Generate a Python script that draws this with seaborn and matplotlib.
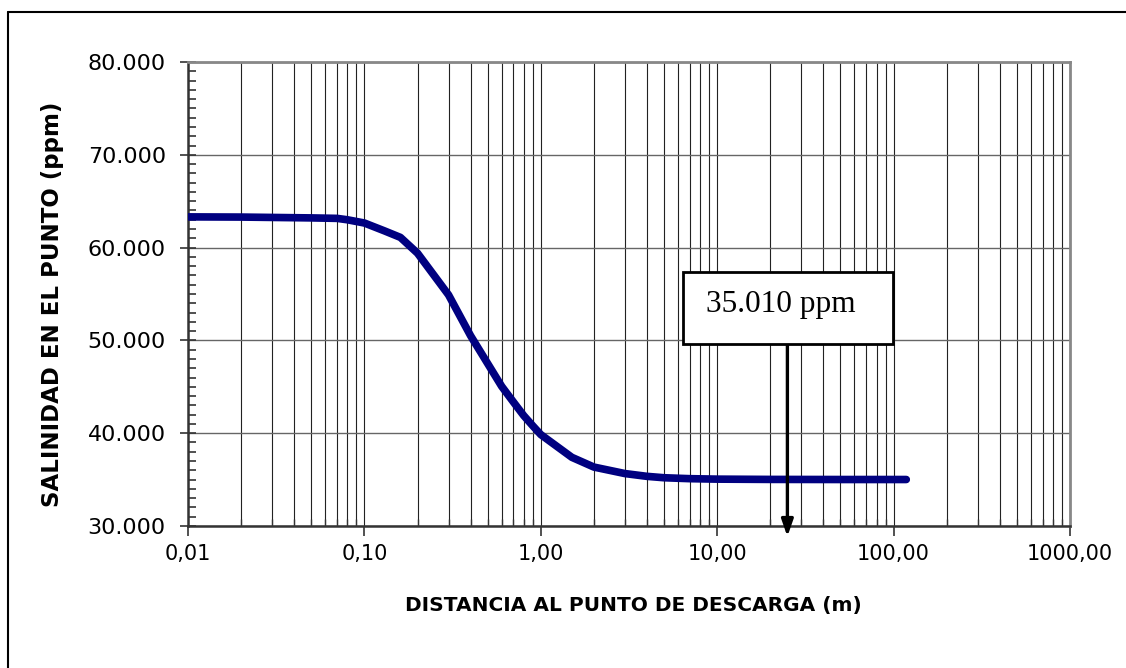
import matplotlib
matplotlib.use("Agg")
import matplotlib.pyplot as plt
from matplotlib.ticker import FixedLocator, LogLocator, MultipleLocator, FuncFormatter, NullFormatter
from matplotlib.lines import Line2D
from matplotlib.patches import Rectangle
import seaborn as sns
import pandas as pd

# ---- data ----
distance_m = [0.01, 0.02, 0.03, 0.05, 0.07, 0.08, 0.1, 0.13, 0.16, 0.2, 0.3, 0.4, 0.5, 0.6, 0.7,
              0.8, 0.9, 1.0, 1.5, 2.0, 3.0, 4.0, 5.0, 7.0, 10.0, 20.0, 50.0, 118.0]
salinity_ppm = [63310, 63290, 63250, 63200, 63150, 63000, 62650, 61800, 61100, 59400, 54900, 50500,
                47500, 45050, 43350, 41900, 40800, 39850, 37400, 36350, 35650, 35350, 35200, 35100,
                35050, 35020, 35010, 35010]
x_ticks = [0.01, 0.1, 1, 10, 100, 1000]
x_tick_labels = ["0,01", "0,10", "1,00", "10,00", "100,00", "1000,00"]
y_ticks = [30000, 40000, 50000, 60000, 70000, 80000]
y_tick_labels = ["30.000", "40.000", "50.000", "60.000", "70.000", "80.000"]
annot_label = "35.010 ppm"
annot_x = 25.0
x_label = "DISTANCIA AL PUNTO DE DESCARGA (m)"
y_label = "SALINIDAD EN EL PUNTO (ppm)"

df = pd.DataFrame({"dist": distance_m, "sal": salinity_ppm})

sns.set_style("white")
plt.rcParams["font.family"] = ["DejaVu Sans"]
plt.rcParams["text.color"] = "black"
plt.rcParams["axes.labelcolor"] = "black"
plt.rcParams["xtick.labelcolor"] = "black"
plt.rcParams["ytick.labelcolor"] = "black"

W, H = 1126, 668
fig = plt.figure(figsize=(W / 100, H / 100), dpi=100)
ax = fig.add_axes([188 / W, 1 - 526 / H, (1070 - 188) / W, (526 - 62) / H])

ax.set_xscale("log")
ax.set_xlim(0.01, 1000)
ax.set_ylim(30000, 80000)

sns.lineplot(data=df, x="dist", y="sal", ax=ax, color="#000080", linewidth=5.5,
             solid_capstyle="round", sort=True, zorder=5)

ax.xaxis.set_major_locator(FixedLocator(x_ticks))
ax.xaxis.set_major_formatter(FuncFormatter(lambda v, p: x_tick_labels[x_ticks.index(v)] if v in x_ticks else ""))
ax.xaxis.set_minor_locator(LogLocator(base=10, subs=range(2, 10), numticks=20))
ax.xaxis.set_minor_formatter(NullFormatter())
ax.yaxis.set_major_locator(FixedLocator(y_ticks))
ax.set_yticklabels(y_tick_labels)
ax.yaxis.set_minor_locator(MultipleLocator(1000))

ax.grid(True, which="major", axis="y", color="#666666", linewidth=1.0)
ax.grid(True, which="both", axis="x", color="#222222", linewidth=0.8)
ax.set_axisbelow(True)

ax.tick_params(axis="y", which="major", direction="inout", length=12, width=1.2, color="#333333",
               labelsize=16, pad=10, left=True, labelcolor="black")
ax.tick_params(axis="y", which="minor", direction="in", length=6, width=1.2, color="#333333", left=True)
ax.tick_params(axis="x", which="major", direction="out", length=7, width=1.2, color="#333333",
               labelsize=15, pad=6, bottom=True, labelcolor="black")
ax.tick_params(axis="x", which="minor", direction="in", length=5, width=1.0, color="#333333", bottom=True)

for s in ["left", "bottom"]:
    ax.spines[s].set_color("#333333")
    ax.spines[s].set_linewidth(1.8)
for s in ["top", "right"]:
    ax.spines[s].set_color("#888888")
    ax.spines[s].set_linewidth(2.0)

ax.set_xlabel(x_label, fontsize=14.5, fontweight="bold", color="black")
ax.set_ylabel(y_label, fontsize=16.5, fontweight="bold", color="black")
ax.xaxis.set_label_coords(0.505, (526 - 606) / 464)
ax.xaxis.label.set_verticalalignment("center")
ax.yaxis.set_label_coords((53 - 188) / 882, 0.478)
ax.yaxis.label.set_verticalalignment("center")

# annotation box + arrow
box_x0, box_x1 = (683 - 188) / 882, (893 - 188) / 882
box_y0, box_y1 = (526 - 344) / 464, (526 - 272) / 464
ax.add_patch(Rectangle((box_x0, box_y0), box_x1 - box_x0, box_y1 - box_y0, transform=ax.transAxes,
                       facecolor="white", edgecolor="black", linewidth=2.0, zorder=8, clip_on=False))
ax.text((781 - 188) / 882, (526 - 312) / 464, annot_label, transform=ax.transAxes, ha="center",
        va="baseline", fontsize=22.5, family="Liberation Serif", color="black", zorder=9)
ax.annotate("", xy=(annot_x, 28870), xycoords="data",
            xytext=(annot_x, 49580), textcoords="data",
            arrowprops=dict(arrowstyle="-|>,head_length=1.0,head_width=0.35", color="black",
                            linewidth=2.4, shrinkA=0, shrinkB=0),
            annotation_clip=False, zorder=7)

# outer frame (left and top edges visible)
fig.add_artist(Line2D([8 / W, 8 / W], [0, 1 - 12 / H], color="black", linewidth=1.5, transform=fig.transFigure))
fig.add_artist(Line2D([8 / W, 1], [1 - 12 / H, 1 - 12 / H], color="black", linewidth=1.5, transform=fig.transFigure))

fig.savefig("out.png", dpi=100, facecolor="white")
